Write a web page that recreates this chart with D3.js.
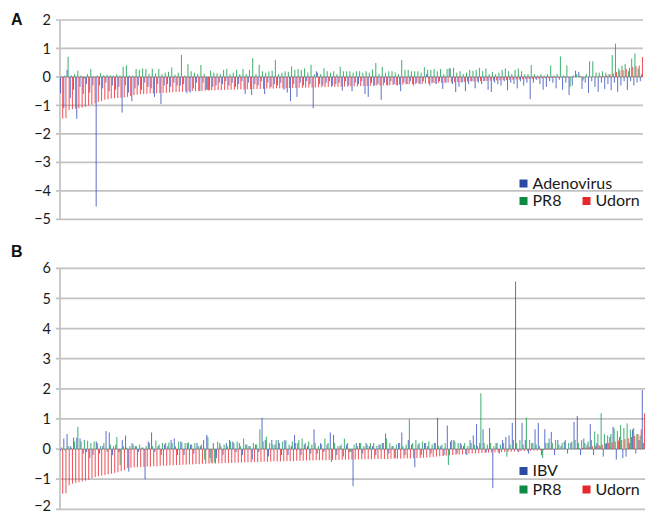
<!DOCTYPE html>
<html>
<head>
<meta charset="utf-8">
<script src="https://cdn.jsdelivr.net/npm/d3@7"></script>
<style>
  html, body { margin: 0; padding: 0; background: #fff; }
  svg { display: block; }
</style>
</head>
<body>
<svg id="chart" width="645" height="514"></svg>
<script>
// ---------- Panel A data ----------
const ticksA = [2, 1, 0, -1, -2, -3, -4, -5];
const adenovirusA = [
 -0.58,-1.1,0.25,-0.75,-0.45,-1.47,-0.35,-0.6,-0.25,-0.55,
 -0.3,-4.55,-0.3,-0.4,-0.2,-0.5,-0.3,-0.45,-0.35,-1.25,
 -0.3,-0.55,-0.85,-0.4,-0.3,-0.45,-0.2,-0.35,-0.4,-0.7,
 -0.25,-0.95,-0.3,-0.25,-0.35,-0.2,-0.3,-0.3,-0.25,-0.57,
 -0.55,-0.4,-0.2,-0.5,-0.2,-0.45,-0.45,-0.35,-0.3,-0.2,
 -0.25,-0.15,-0.3,-0.2,-0.35,-0.25,-0.15,-0.6,-0.2,-0.63,
 -0.25,-0.3,-0.15,-0.6,-0.2,-0.35,-0.25,-0.3,-0.2,-0.45,
 -0.55,-0.85,-0.25,-0.7,-0.2,-0.3,-0.15,-0.25,-1.1,0.2,
 -0.25,-0.3,-0.2,-0.15,-0.3,-0.25,-0.2,-0.48,-0.15,-0.3,
 -0.5,-0.2,-0.25,-0.15,-0.6,-0.7,-0.2,-0.3,-0.25,-0.8,
 -0.2,-0.3,-0.15,-0.25,-0.3,-0.5,-0.2,-0.25,-0.15,-0.3,
 -0.2,-0.25,-0.15,0.1,-0.3,-0.2,-0.25,-0.15,-0.42,-0.2,
 0.3,-0.25,-0.53,-0.35,-0.2,-0.5,-0.25,-0.15,-0.4,-0.2,
 -0.25,-0.15,-0.45,-0.53,-0.2,-0.25,-0.3,-0.15,-0.47,-0.2,
 -0.25,-0.4,-0.15,-0.3,-0.2,-0.78,-0.2,-0.1,-0.25,-0.45,
 -0.35,-0.15,-0.2,-0.4,-0.1,-0.45,-0.2,-0.63,-0.3,0.22,
 0.18,-0.42,-0.2,-0.56,-0.15,-0.35,-0.52,-0.2,-0.42,-0.25,
 -0.47,-0.2,-0.52,-0.3,-0.15,-0.46,-0.15,-0.3,-0.2,-0.15
];
const pr8A = [
 0.02,0.05,0.71,0.05,0.1,0.22,0.05,-0.05,0.1,0.28,
 0.02,0.05,0.13,0.06,0.08,0.06,0.05,0.1,0.05,0.36,
 0.41,0.05,0.05,0.28,0.25,0.3,0.28,0.1,0.29,0.12,
 0.28,0.1,0.15,0.18,0.33,0.08,0.15,0.77,0.05,0.45,
 0.2,0.15,0.1,0.42,0.1,-0.45,0.22,0.15,0.13,0.1,
 0.25,0.28,0.1,0.15,0.25,0.1,0.28,0.1,0.25,0.66,
 0.1,0.43,0.2,0.15,0.2,0.22,0.6,0.1,0.15,0.2,
 0.18,0.37,0.25,0.28,0.25,0.3,0.15,0.43,0.1,0.15,
 0.1,0.31,0.2,0.15,0.2,0.1,0.36,0.2,0.2,0.2,
 0.15,0.2,0.2,0.15,0.2,0.15,0.26,0.49,0.1,0.35,
 0.15,0.2,0.2,0.15,0.1,0.6,0.25,0.25,0.2,0.2,
 0.2,0.15,0.34,0.25,0.25,0.28,0.2,0.28,0.1,0.28,
 0.3,0.32,0.15,0.2,0.1,0.15,0.25,0.22,0.25,0.32,
 0.2,0.3,0.1,0.18,0.1,0.15,0.25,0.3,0.2,0.1,
 0.25,0.3,0.2,0.1,0.1,0.42,0.1,0.05,0.1,0.05,
 0.1,0.4,0.05,0.1,0.72,0.05,0.4,-0.35,0.05,0.1,
 0.05,-0.13,0.1,0.55,0.55,0.15,0.15,0.2,0.15,0.1,
 0.77,1.17,0.3,0.4,0.45,0.2,0.65,0.82,0.3,0.1
];
const udornA = [
 -1.46,-1.45,-1.16,-1.13,-1.11,-1.1,-1.08,-1.05,-1.0,-0.97,
 -0.93,-0.88,-0.85,-0.8,-0.78,-0.76,-0.75,-0.74,-0.73,-0.72,
 -0.7,-0.67,-0.64,-0.62,-0.6,-0.6,-0.59,-0.58,-0.58,-0.57,
 -0.57,-0.56,-0.56,-0.55,-0.54,-0.53,-0.52,-0.52,-0.51,-0.5,
 -0.5,-0.5,-0.49,-0.49,-0.48,-0.48,-0.47,-0.47,-0.46,-0.46,
 -0.46,-0.45,-0.45,-0.45,-0.44,-0.44,-0.44,-0.43,-0.43,-0.43,
 -0.42,-0.42,-0.42,-0.41,-0.41,-0.41,-0.4,-0.4,-0.4,-0.4,
 -0.39,-0.39,-0.39,-0.38,-0.38,-0.38,-0.37,-0.37,-0.37,-0.36,
 -0.36,-0.36,-0.35,-0.35,-0.35,-0.35,-0.34,-0.34,-0.34,-0.33,
 -0.33,-0.33,-0.32,-0.32,-0.32,-0.31,-0.31,-0.3,-0.3,-0.3,
 -0.29,-0.29,-0.28,-0.28,-0.27,-0.27,-0.26,-0.26,-0.25,-0.25,
 -0.24,-0.24,-0.23,-0.23,-0.22,-0.22,-0.21,-0.21,-0.2,-0.2,
 -0.19,-0.19,-0.18,-0.18,-0.17,-0.17,-0.16,-0.16,-0.15,-0.15,
 -0.14,-0.14,-0.13,-0.13,-0.12,-0.12,-0.11,-0.11,-0.1,-0.1,
 -0.09,-0.09,-0.08,-0.08,-0.07,-0.07,-0.06,-0.06,-0.05,-0.05,
 -0.04,-0.04,-0.03,-0.03,-0.02,-0.02,-0.01,-0.01,0,0,
 -0.01,-0.01,0,0,0.01,0.01,0.02,0.03,0.06,0.09,
 0.13,0.17,0.22,0.25,0.28,0.32,0.35,0.38,0.4,0.7
];

// ---------- Panel B data ----------
const ticksB = [6, 5, 4, 3, 2, 1, 0, -1, -2];
const ibvB = [
 -0.05,0.35,0.5,0.1,0.38,0.38,0.35,-0.15,-0.1,-0.3,
 -0.2,0.25,-0.15,0.1,0.6,0.55,-0.2,0.15,-0.1,0.3,
 0.45,-0.75,0.2,0.1,-0.1,0.05,-1.0,0.25,0.55,-0.1,
 0.1,-0.2,0.15,0.1,0.3,0.35,-0.2,0.25,-0.2,0.2,
 0.15,-0.15,0.2,0.1,0.3,0.47,-0.3,0.2,-0.3,0.2,
 -0.2,0.2,0.3,0.25,-0.1,0.2,-0.2,0.15,0.1,-0.35,
 0.15,-0.1,1.04,0.3,-0.25,0.3,0.15,0.3,-0.2,0.3,
 -0.2,0.1,0.47,0.2,-0.2,0.15,0.1,-0.15,0.65,-0.15,
 0.2,-0.1,0.15,0.55,0.47,-0.2,0.1,-0.25,0.15,-0.1,
 -1.23,0.2,0.2,-0.15,0.2,0.1,0.1,-0.2,0.15,0.2,
 0.52,-0.15,0.1,-0.3,0.2,0.55,-0.2,0.3,0.15,-0.6,
 0.15,-0.2,0.2,0.1,-0.15,0.2,1.04,0.1,-0.2,0.78,
 0.25,0.3,-0.15,0.2,0.1,-0.2,0.3,0.45,0.83,0.2,
 0.66,-0.1,0.7,-1.3,0.2,-0.15,0.3,0.4,0.45,0.87,
 5.56,-0.1,0.87,0.3,-0.15,0.2,0.66,0.87,-0.2,0.66,
 0.2,0.57,-0.2,0.3,0.1,0.25,-0.15,0.2,0.9,1.1,
 -0.2,0.35,0.15,0.83,-0.2,0.2,0.1,-0.25,0.2,0.4,
 0.74,-0.35,0.4,-0.3,-0.25,0.2,0.65,-0.15,0.3,1.96
];
const pr8B = [
 0.05,-0.05,0.1,0.05,0.25,0.74,0.25,0.3,0.28,0.2,
 0.25,0.2,0.1,0.2,-0.1,0.15,0.1,0.4,-0.53,0.1,
 0.05,0.1,0.15,0.1,0.15,0.05,0.1,0.2,0.1,0.28,
 0.15,0.2,0.2,0.22,0.2,0.1,0.25,0.22,0.2,0.22,
 0.15,0.2,0.1,0.15,-0.35,0.4,-0.45,-0.45,0.25,0.1,
 0.15,0.1,0.25,0.2,0.25,0.1,0.35,0.15,0.1,0.2,
 0.15,0.66,0.25,0.41,0.2,0.15,0.3,0.2,0.25,0.28,
 0.15,0.25,0.2,0.3,0.35,0.2,0.25,0.15,0.2,0.1,
 0.15,0.35,0.2,-0.43,0.2,0.1,0.15,0.35,0.2,-0.1,
 0.15,0.1,0.2,0.1,0.15,0.2,0.2,0.1,0.15,0.2,
 0.35,0.2,0.1,0.15,0.2,0.1,0.15,0.99,0.2,0.3,
 0.2,0.25,0.2,0.25,0.15,0.2,0.1,0.15,0.2,-0.53,
 0.3,0.25,0.2,0.15,0.2,0.1,0.2,0.15,0.1,1.85,
 0.2,0.15,0.2,0.1,0.2,0.15,0.2,-0.25,0.15,0.3,
 0.2,0.3,0.15,1.05,0.3,0.2,0.15,0.1,-0.3,0.2,
 0.35,0.2,0.3,0.15,0.2,0.3,0.2,0.25,0.3,0.2,
 0.3,0.2,0.25,0.3,0.58,0.5,1.19,0.5,0.45,0.5,
 0.69,0.6,0.8,0.7,0.85,0.65,0.7,0.5,0.45,0.2
];
const udornB = [
 -1.48,-1.47,-1.2,-1.15,-1.12,-1.1,-1.08,-1.05,-1.02,-0.97,
 -0.93,-0.9,-0.88,-0.86,-0.84,-0.82,-0.8,-0.77,-0.73,-0.7,
 -0.63,-0.62,-0.61,-0.6,-0.6,-0.59,-0.58,-0.58,-0.57,-0.57,
 -0.56,-0.55,-0.55,-0.54,-0.54,-0.53,-0.53,-0.52,-0.52,-0.51,
 -0.51,-0.5,-0.5,-0.49,-0.49,-0.48,-0.48,-0.48,-0.47,-0.47,
 -0.46,-0.46,-0.46,-0.45,-0.45,-0.45,-0.44,-0.44,-0.44,-0.43,
 -0.43,-0.43,-0.42,-0.42,-0.42,-0.41,-0.41,-0.41,-0.4,-0.4,
 -0.4,-0.4,-0.39,-0.39,-0.39,-0.38,-0.38,-0.38,-0.37,-0.37,
 -0.37,-0.37,-0.36,-0.36,-0.36,-0.36,-0.35,-0.35,-0.35,-0.35,
 -0.35,-0.34,-0.34,-0.34,-0.34,-0.34,-0.33,-0.33,-0.33,-0.33,
 -0.33,-0.32,-0.32,-0.32,-0.32,-0.31,-0.31,-0.31,-0.3,-0.3,
 -0.3,-0.29,-0.28,-0.27,-0.26,-0.25,-0.24,-0.23,-0.22,-0.21,
 -0.2,-0.19,-0.18,-0.17,-0.16,-0.15,-0.15,-0.14,-0.14,-0.13,
 -0.13,-0.12,-0.12,-0.11,-0.11,-0.1,-0.1,-0.09,-0.09,-0.08,
 -0.08,-0.07,-0.07,-0.06,-0.06,-0.05,-0.05,-0.04,-0.04,-0.03,
 -0.03,-0.02,-0.02,-0.01,-0.01,0,0,0.01,0.02,0.03,
 0.04,0.05,0.07,0.09,0.11,0.13,0.15,0.18,0.2,0.22,
 0.25,0.28,0.3,0.33,0.36,0.4,0.44,0.5,0.65,1.18
];

const seriesNamesA = ["Adenovirus", "PR8", "Udorn"];
const seriesNamesB = ["IBV", "PR8", "Udorn"];
const colors = ["#3d55c0", "#17a050", "#ee2c36"];
const legendColors = ["#2b4aa3", "#0f8a43", "#e8262b"];

const svg = d3.select("#chart");
const FONT = "Lato, 'Open Sans', sans-serif";

function panel(cfg) {
  const N = cfg.series[0].length;
  const x = d3.scaleBand().domain(d3.range(N)).range([cfg.x0, cfg.x1]).paddingInner(0);
  const inner = d3.scaleBand().domain([0, 1, 2]).range([0, x.bandwidth()]).padding(0.02);
  const y = d3.scaleLinear().domain(cfg.domain).range([cfg.yBottom, cfg.yTop]);
  const g = svg.append("g");

  // gridlines
  g.append("g").selectAll("line").data(cfg.ticks).join("line")
    .attr("x1", cfg.x0 - 4).attr("x2", cfg.x1)
    .attr("y1", d => y(d)).attr("y2", d => y(d))
    .attr("stroke", "#c2c2c2").attr("stroke-width", 1.7);

  // axis line
  g.append("line").attr("x1", cfg.x0).attr("x2", cfg.x0)
    .attr("y1", y(cfg.domain[1])).attr("y2", y(cfg.domain[0]))
    .attr("stroke", "#c2c2c2").attr("stroke-width", 1.7);

  // tick labels via axis
  const axis = d3.axisLeft(y).tickValues(cfg.ticks).tickSize(0).tickPadding(9)
    .tickFormat(d3.format("d"));
  const ag = g.append("g").attr("transform", `translate(${cfg.x0},0)`).call(axis);
  ag.select(".domain").remove();
  ag.selectAll("text").attr("font-family", FONT).attr("font-size", 14.5).attr("fill", "#1a1a1a")
    .attr("dy", d => (cfg.clipBottom && d === cfg.domain[0]) ? "0.05em" : "0.32em");

  // bars
  cfg.series.forEach((vals, s) => {
    g.append("g").selectAll("rect").data(vals).join("rect")
      .attr("x", (d, i) => x(i) + inner(s))
      .attr("width", inner.bandwidth())
      .attr("y", d => Math.min(y(d), y(0)))
      .attr("height", d => Math.abs(y(d) - y(0)))
      .attr("fill", colors[s])
      .attr("fill-opacity", 0.8);
  });

  // panel label
  svg.append("text").attr("x", cfg.labelX).attr("y", cfg.labelY)
    .attr("font-family", "'Liberation Sans', Arial, sans-serif").attr("font-weight", "bold").attr("font-size", 16)
    .attr("fill", "#111").text(cfg.label);

  // legend
  const L = cfg.legend;
  const items = [
    { name: cfg.names[0], x: L.x, y: L.y1, c: 0 },
    { name: cfg.names[1], x: L.x, y: L.y2, c: 1 },
    { name: cfg.names[2], x: L.x2, y: L.y2, c: 2 }
  ];
  const lg = svg.append("g");
  lg.selectAll("rect").data(items).join("rect")
    .attr("x", d => d.x).attr("y", d => d.y - 9)
    .attr("width", 8).attr("height", 8)
    .attr("fill", d => legendColors[d.c]);
  lg.selectAll("text").data(items).join("text")
    .attr("x", d => d.x + 13).attr("y", d => d.y)
    .attr("font-family", FONT).attr("font-size", 16).attr("fill", "#1a1a1a")
    .text(d => d.name);
}

panel({
  series: [adenovirusA, pr8A, udornA], names: seriesNamesA,
  ticks: ticksA, domain: [-5, 2], yTop: 20, yBottom: 219.3,
  x0: 60, x1: 643, label: "A", labelX: 11, labelY: 25, clipBottom: false,
  legend: { x: 519.5, x2: 582.5, y1: 188.5, y2: 206 }
});
panel({
  series: [ibvB, pr8B, udornB], names: seriesNamesB,
  ticks: ticksB, domain: [-2, 6], yTop: 268.3, yBottom: 509.3,
  x0: 60, x1: 645, label: "B", labelX: 11, labelY: 257, clipBottom: true,
  legend: { x: 519.5, x2: 582.5, y1: 476, y2: 494.5 }
});
</script>
</body>
</html>
